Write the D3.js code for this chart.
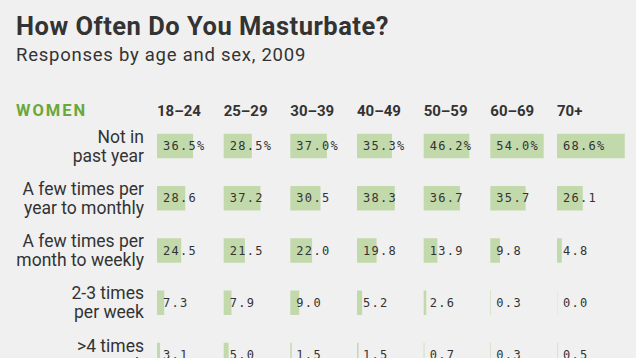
<!DOCTYPE html>
<html><head><meta charset="utf-8">
<script src="https://cdn.jsdelivr.net/npm/d3@7"></script>
<style>
html,body{margin:0;padding:0;background:#f0f0f0;}
svg{display:block;}
</style></head>
<body>
<script>
const title = "How Often Do You Masturbate?";
const subtitle = "Responses by age and sex, 2009";
const groupLabel = "WOMEN";
const ages = ["18-24","25-29","30-39","40-49","50-59","60-69","70+"];
const frequencies = [
  ["Not in","past year"],
  ["A few times per","year to monthly"],
  ["A few times per","month to weekly"],
  ["2-3 times","per week"],
  [">4 times","per week"]
];
const notInPastYear   = [36.5,28.5,37.0,35.3,46.2,54.0,68.6];
const fewPerYear      = [28.6,37.2,30.5,38.3,36.7,35.7,26.1];
const fewPerMonth     = [24.5,21.5,22.0,19.8,13.9,9.8,4.8];
const twoThreePerWeek = [7.3,7.9,9.0,5.2,2.6,0.3,0.0];
const fourPlusPerWeek = [3.1,5.0,1.5,1.5,0.7,0.3,0.5];
const seriesValues = [notInPastYear,fewPerYear,fewPerMonth,twoThreePerWeek,fourPlusPerWeek];

const W = 636, H = 358;
const svg = d3.select("body").append("svg").attr("width",W).attr("height",H);
svg.append("rect").attr("width",W).attr("height",H).attr("fill","#f0f0f0");

const sans = "Roboto, 'Liberation Sans', Arial, sans-serif";
const mono = "'DejaVu Sans Mono', 'Liberation Mono', monospace";

svg.append("text").attr("x",16).attr("y",35).text(title)
  .attr("font-family",sans).attr("font-weight",700).attr("font-size",25.5)
  .attr("letter-spacing",0.5).attr("fill","#333");
svg.append("text").attr("x",16).attr("y",61).text(subtitle)
  .attr("font-family",sans).attr("font-size",18.5).attr("letter-spacing",0.75).attr("fill","#333");

const xCol = d3.scalePoint().domain(ages).range([157,557]);
const yRow = d3.scalePoint().domain(d3.range(frequencies.length)).range([146,355]);
const w = d3.scaleLinear().domain([0,100]).range([0,98.8]);
const barH = 24.5;

svg.append("text").attr("x",16).attr("y",116).text(groupLabel)
  .attr("font-family",sans).attr("font-weight",700).attr("font-size",16.5)
  .attr("letter-spacing",2).attr("fill","#6aa83a");

svg.selectAll("text.age").data(ages).join("text").attr("class","age")
  .attr("x",d=>xCol(d)).attr("y",116).text(d=>d.replace("-","\u2013"))
  .attr("font-family",sans).attr("font-weight",700).attr("font-size",15).attr("fill","#333");

const rows = svg.selectAll("g.row").data(seriesValues).join("g").attr("class","row")
  .attr("transform",(d,i)=>`translate(0,${yRow(i)})`);

rows.append("text").attr("text-anchor","end")
  .attr("font-family",sans).attr("font-size",17.5).attr("fill","#333")
  .each(function(d,i){
    const t = d3.select(this);
    frequencies[i].forEach((line,j)=>{
      t.append("tspan").attr("x",144).attr("y",j===0?-3.5:15.5).text(line);
    });
  });

rows.each(function(vals,i){
  const g = d3.select(this);
  g.selectAll("rect").data(vals).join("rect")
    .attr("x",(d,k)=>xCol(ages[k]))
    .attr("y",-barH/2)
    .attr("width",d=>Math.max(w(d),0.5))
    .attr("height",barH)
    .attr("fill","#c2d9ab")
    .attr("opacity",d=>d===0?0.5:1);
  g.selectAll("text.val").data(vals).join("text").attr("class","val")
    .attr("x",(d,k)=>xCol(ages[k])+6)
    .attr("y",4)
    .text(d=>d.toFixed(1)+(i===0?"%":""))
    .attr("font-family",mono).attr("font-size",12).attr("letter-spacing",1.3)
    .attr("fill","#333");
});
</script>
</body></html>
